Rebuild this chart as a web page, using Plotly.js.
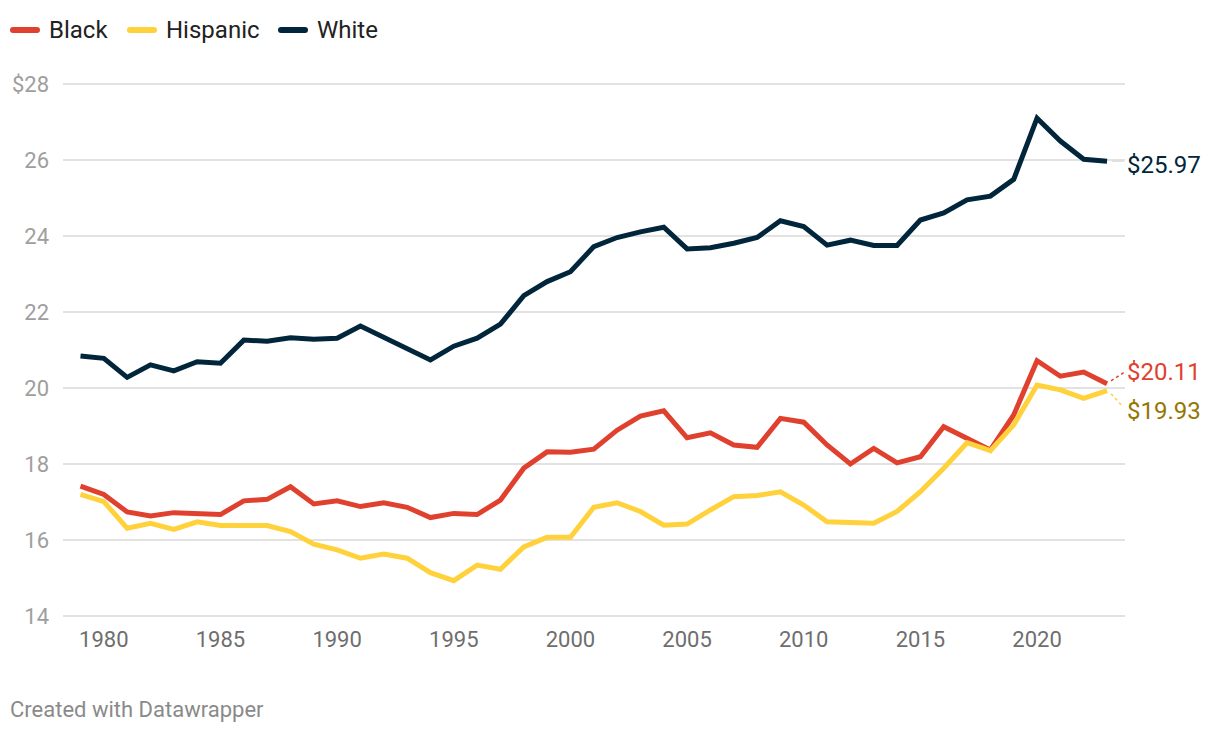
<!DOCTYPE html>
<html>
<head>
<meta charset="utf-8">
<script src="https://cdn.plot.ly/plotly-3.0.1.min.js"></script>
<style>
html,body{margin:0;padding:0;background:#fff;}
#chart{width:1220px;height:732px;}
</style>
</head>
<body>
<div id="chart"></div>
<script>
var years = [];
for (var y = 1979; y <= 2023; y++) years.push(y);

var black = [17.42,17.20,16.74,16.63,16.72,16.68,16.67,17.03,17.07,17.40,16.95,17.03,16.88,16.98,16.86,16.59,16.70,16.67,17.05,17.89,18.32,18.31,18.39,18.89,19.26,19.40,18.69,18.82,18.50,18.44,19.20,19.10,18.50,18.00,18.41,18.03,18.19,18.98,18.67,18.37,19.29,20.72,20.31,20.42,20.11];
var hispanic = [17.20,17.01,16.31,16.44,16.28,16.48,16.38,16.38,16.38,16.22,15.89,15.74,15.52,15.63,15.52,15.14,14.93,15.34,15.23,15.82,16.07,16.07,16.86,16.98,16.75,16.39,16.42,16.79,17.14,17.17,17.27,16.92,16.48,16.46,16.44,16.75,17.27,17.89,18.56,18.35,19.03,20.08,19.95,19.73,19.93];
var white = [20.84,20.78,20.28,20.61,20.45,20.69,20.65,21.26,21.23,21.32,21.28,21.31,21.63,21.33,21.02,20.74,21.10,21.31,21.68,22.43,22.80,23.06,23.72,23.96,24.11,24.23,23.66,23.69,23.81,23.96,24.40,24.25,23.76,23.89,23.75,23.75,24.42,24.61,24.95,25.05,25.49,27.10,26.50,26.02,25.97];

var seriesNames = ["Black", "Hispanic", "White"];
var seriesColors = ["#e0412f", "#ffd13b", "#01263b"];
var labelColors = ["#e0412f", "#957600", "#01263b"];
var endLabels = ["$20.11", "$19.93", "$25.97"];

var yTickVals = [14, 16, 18, 20, 22, 24, 26, 28];
var yTickText = ["14", "16", "18", "20", "22", "24", "26", "$28"];
var xTickVals = [1980, 1985, 1990, 1995, 2000, 2005, 2010, 2015, 2020];

// plot area geometry (pixels); 2px padding beyond the 14 and 28 gridlines
var PL = 63, PR = 1125, PT = 82, PB = 618;
function px(p) { return (p - PL) / (PR - PL); }
function py(p) { return (PB - p) / (PB - PT); }

var seriesData = [black, hispanic, white];
var traces = seriesData.map(function (vals, i) {
  return {
    x: years, y: vals, type: "scatter", mode: "lines", name: seriesNames[i],
    line: {color: seriesColors[i], width: 5, shape: "linear"},
    showlegend: false, hoverinfo: "x+y"
  };
});

var last = years[years.length - 1];
var labelShift = [12, -20, -4];
var annotations = seriesData.map(function (vals, i) {
  return {
    x: last, y: vals[vals.length - 1], xref: "x", yref: "y",
    text: endLabels[i], showarrow: false, xanchor: "left", yanchor: "middle",
    xshift: 18, yshift: labelShift[i],
    font: {family: "Roboto, sans-serif", size: 24, color: labelColors[i]}
  };
});
annotations.push({
  xref: "paper", yref: "paper", x: px(8), y: py(709), xanchor: "left", yanchor: "middle",
  text: "Created with Datawrapper", showarrow: false,
  font: {family: "Roboto, sans-serif", size: 22, color: "#8a8a8a"}
});

// manual legend
var legendLineX = [10, 127, 278];
var shapes = [];
seriesNames.forEach(function (name, i) {
  shapes.push({type: "line", xref: "paper", yref: "paper",
    x0: px(legendLineX[i] + 3), x1: px(legendLineX[i] + 27), y0: py(30), y1: py(30),
    line: {color: seriesColors[i], width: 6}});
  shapes.push({type: "circle", xref: "paper", yref: "paper",
    x0: px(legendLineX[i]), x1: px(legendLineX[i] + 6), y0: py(33), y1: py(27),
    fillcolor: seriesColors[i], line: {width: 0}});
  shapes.push({type: "circle", xref: "paper", yref: "paper",
    x0: px(legendLineX[i] + 24), x1: px(legendLineX[i] + 30), y0: py(33), y1: py(27),
    fillcolor: seriesColors[i], line: {width: 0}});
  annotations.push({xref: "paper", yref: "paper", x: px(legendLineX[i] + 37), y: py(30),
    xanchor: "left", yanchor: "middle", text: name, showarrow: false,
    font: {family: "Roboto, sans-serif", size: 24, color: "#222"}});
});

shapes.push(
  {type: "line", xref: "x", yref: "y", xsizemode: "pixel", ysizemode: "pixel",
   xanchor: last, yanchor: black[black.length - 1], x0: 4, x1: 18, y0: 3, y1: 12,
   line: {color: seriesColors[0], width: 1.5, dash: "dot"}},
  {type: "line", xref: "x", yref: "y", xsizemode: "pixel", ysizemode: "pixel",
   xanchor: last, yanchor: hispanic[hispanic.length - 1], x0: 4, x1: 14, y0: -3, y1: -14,
   line: {color: seriesColors[1], width: 1.5, dash: "dot"}},
  {type: "line", xref: "x", yref: "y", xsizemode: "pixel", ysizemode: "pixel",
   xanchor: last, yanchor: white[white.length - 1], x0: 5, x1: 17, y0: 0, y1: 0,
   line: {color: "#dddddd", width: 1.5}}
);

var layout = {
  width: 1220, height: 732,
  margin: {l: PL, r: 1220 - PR, t: PT, b: 732 - PB},
  paper_bgcolor: "#fff", plot_bgcolor: "#fff",
  font: {family: "Roboto, sans-serif"},
  showlegend: false,
  xaxis: {
    range: [1978.25, 2023.77], tickvals: xTickVals, ticks: "", showgrid: false,
    zeroline: false, showline: false, fixedrange: true,
    tickfont: {family: "Roboto, sans-serif", size: 22, color: "#6e6e6e"},
    ticklabelstandoff: 6
  },
  yaxis: {
    range: [14 - 2/38, 28 + 2/38], tickvals: yTickVals, ticktext: yTickText, ticks: "",
    showgrid: true, gridcolor: "#e2e2e2", gridwidth: 1.5, zeroline: false, showline: false,
    fixedrange: true,
    tickfont: {family: "Roboto, sans-serif", size: 22, color: "#9e9e9e"},
    ticklabelstandoff: 13
  },
  annotations: annotations,
  shapes: shapes
};

Plotly.newPlot("chart", traces, layout, {displayModeBar: false, staticPlot: true});
</script>
</body>
</html>
